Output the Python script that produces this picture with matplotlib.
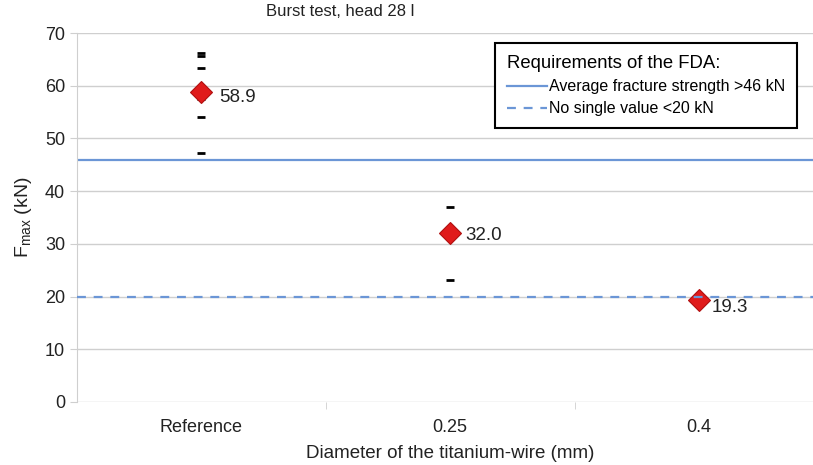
import matplotlib.pyplot as plt
import numpy as np

plt.rcParams['font.family'] = ['Liberation Sans', 'DejaVu Sans']

# data
categories = ['Reference', '0.25', '0.4']
means = [58.9, 32.0, 19.3]
single_ref = [66.3, 65.6, 63.4, 54.1, 47.3, 57.5]
single_025 = [36.9, 23.1, 32.5]
single_04 = [19.5, 19.0]
avg_limit = 46
single_limit = 20

fig = plt.figure(figsize=(8.13, 4.65), dpi=100)
ax = fig.add_axes([0.0947, 0.1355, 0.918, 0.7935])

blue = '#6b96d6'
ax.axhline(avg_limit, color=blue, lw=1.6, zorder=2,
           label='Average fracture strength >46 kN')
ax.axhline(single_limit, color=blue, lw=1.6, ls=(0, (4, 3.5)), zorder=4,
           label='No single value <20 kN')

# einzelwerte als striche
for i, vals in enumerate([single_ref, single_025, single_04]):
    ax.plot(np.full(len(vals), i), vals, ls='none', marker='_',
            ms=6, mew=2, color='black', zorder=3)

x = np.arange(len(categories))
ax.plot(x, means, ls='none', marker='D', ms=11, color='#e01b1b',
        mec='#b01010', mew=0.8, zorder=3)

offsets = [(13, -4.5), (11, -1.5), (9, -5)]
for xi, m, off in zip(x, means, offsets):
    ax.annotate(f'{m:.1f}', (xi, m), xytext=off, textcoords='offset points',
                fontsize=13.5, color='#222222', va='center')

ax.set_xlim(-0.5, 2.5)
ax.set_ylim(0, 70)
ax.set_yticks(range(0, 71, 10))
ax.yaxis.grid(True, color='#cfcfcf', lw=1)
ax.set_axisbelow(True)

ax.set_xticks(x)
ax.set_xticklabels(categories)
ax.tick_params(axis='x', length=0, pad=12, labelsize=13, labelcolor='#222222')
ax.set_xticks([0.5, 1.5], minor=True)
ax.tick_params(axis='x', which='minor', length=5, color='#cfcfcf')
ax.tick_params(axis='y', length=5, color='#cfcfcf', labelsize=13,
               labelcolor='#222222')

for s in ['top', 'right', 'bottom']:
    ax.spines[s].set_visible(False)
ax.spines['left'].set_color('#cfcfcf')

fig.text(340 / 813, 1 - 12 / 465, 'Burst test, head 28 l', fontsize=12,
         ha='center', va='center', color='#222222')
ax.set_xlabel('Diameter of the titanium-wire (mm)', fontsize=13.5, labelpad=6.5,
              color='#222222')
ax.set_ylabel(r'F$_{\mathregular{max}}$ (kN)', fontsize=14, labelpad=8,
              color='#222222')

leg = ax.legend(title='Requirements of the FDA:', loc='upper right',
                bbox_to_anchor=(0.965, 0.973), fontsize=11.5, title_fontsize=13.3,
                frameon=True, fancybox=False, edgecolor='black', framealpha=1,
                handlelength=2.5, handletextpad=0.15, labelspacing=0.45,
                borderpad=0.75, borderaxespad=0)
leg.get_frame().set_linewidth(1.5)
leg._legend_box.align = 'left'

fig.savefig('out.png', dpi=100)
